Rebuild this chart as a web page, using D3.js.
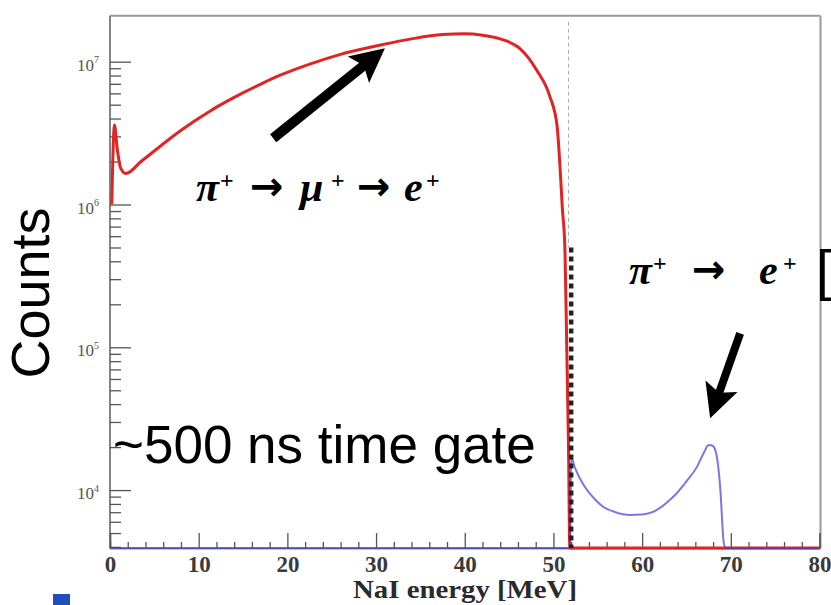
<!DOCTYPE html>
<html><head><meta charset="utf-8">
<script src="https://cdn.jsdelivr.net/npm/d3@7"></script>
<style>body{margin:0;background:#fff}svg{display:block}</style>
</head><body><svg id="c" width="831" height="605"></svg>
<script>
// ---- data ----
const redEnergy = [0.2, 0.5, 0.8, 1.2, 1.8, 3.5, 5.6, 7.9, 11.3, 14, 16.9, 19.2, 22.6, 25.9, 30.4, 34, 37.5, 40, 42, 44, 46.2, 48.1, 49.6, 50.4, 50.75, 51.0, 51.3, 51.5, 51.7, 51.85, 52, 80];
const redCounts = [1.0e6, 3.6e6, 2.5e6, 1.8e6, 1.65e6, 2.0e6, 2.54e6, 3.27e6, 4.52e6, 5.62e6, 6.92e6, 8.04e6, 9.66e6, 1.122e7, 1.303e7, 1.445e7, 1.549e7, 1.567e7, 1.531e7, 1.445e7, 1.24e7, 8.75e6, 5.7e6, 3.6e6, 1.8e6, 9.5e5, 4.8e5, 1.0e5, 2.0e4, 0, 0, 0];
const blueEnergy = [0, 51.9, 52, 52.4, 53, 53.8, 54.7, 55.6, 57, 58.6, 60, 61.3, 62.6, 63.9, 65, 66.2, 67, 67.5, 67.9, 68.3, 68.8, 69.2, 69.4, 80];
const blueCounts = [0, 0, 1.7e4, 1.45e4, 1.2e4, 1.0e4, 8.6e3, 7.65e3, 7.0e3, 6.7e3, 6.75e3, 7.06e3, 8.0e3, 9.5e3, 1.15e4, 1.46e4, 1.85e4, 2.07e4, 2.05e4, 1.86e4, 1.05e4, 4.3e3, 0, 0];
const xTicks = [0, 10, 20, 30, 40, 50, 60, 70, 80];
const xTickLabels = ["0", "10", "20", "30", "40", "50", "60", "70", "80"];
const yTicks = [1e4, 1e5, 1e6, 1e7];
const yTickExponents = ["4", "5", "6", "7"];
const xDomain = [0, 80];
const yDomain = [3930, 2.1e7];
const cutEnergy = 52;
const gateLineEnergy = 51.7;
const cutTopCounts = 5.0e5;
const xTitle = "NaI energy [MeV]";
const yTitle = "Counts";
const gateText = "~500 ns time gate";

// ---- layout ----
const svg = d3.select("#c");
const L = 110, R = 819.5, T = 15.7, B = 548;
const x = d3.scaleLinear().domain(xDomain).range([L, R]);
const y = d3.scaleLog().domain(yDomain).range([B, T]);
const yv = v => v > 0 ? y(Math.max(v, yDomain[0])) : B;

// frame
svg.append("line").attr("x1", L).attr("x2", R + 1).attr("y1", T).attr("y2", T)
  .attr("stroke", "#9a9a9a").attr("stroke-width", 2);
svg.append("line").attr("x1", R + 1).attr("x2", R + 1).attr("y1", T).attr("y2", B)
  .attr("stroke", "#9a9a9a").attr("stroke-width", 2);
svg.append("line").attr("x1", L).attr("x2", L).attr("y1", T).attr("y2", B)
  .attr("stroke", "#666").attr("stroke-width", 1.6);

// x axis
const xMinor = d3.range(0, 81, 2).filter(v => v % 10 !== 0);
const gxMinor = svg.append("g").attr("transform", `translate(0,${B})`)
  .call(d3.axisBottom(x).tickValues(xMinor).tickSize(-6).tickFormat(""));
const gx = svg.append("g").attr("transform", `translate(0,${B})`)
  .call(d3.axisBottom(x).tickValues(xTicks).tickSize(-15).tickPadding(7.5)
    .tickFormat((d, i) => xTickLabels[i]));
[gx, gxMinor].forEach(g => {
  g.select(".domain").attr("stroke", "#777").attr("stroke-width", 1.5);
  g.selectAll(".tick line").attr("stroke", "#555").attr("stroke-width", 1.3);
});
gx.selectAll(".tick text").attr("font-family", "Liberation Serif, serif")
  .attr("font-size", 23).attr("fill", "#3a3a3a").attr("font-weight", "bold");

// y axis
const yMinor = [];
[1e3, 1e4, 1e5, 1e6].forEach(dec => [2, 3, 4, 5, 6, 7, 8, 9].forEach(m => {
  const v = dec * m; if (v >= yDomain[0] && v < 1e7) yMinor.push(v);
}));
const gyMinor = svg.append("g").attr("transform", `translate(${L},0)`)
  .call(d3.axisLeft(y).tickValues(yMinor).tickSize(-11).tickFormat(""));
const gy = svg.append("g").attr("transform", `translate(${L},0)`)
  .call(d3.axisLeft(y).tickValues(yTicks).tickSize(-21).tickPadding(11).tickFormat(() => "10"));
[gy, gyMinor].forEach(g => {
  g.select(".domain").attr("stroke", "none");
  g.selectAll(".tick line").attr("stroke", "#555").attr("stroke-width", 1.3);
});
gy.selectAll(".tick text").attr("font-family", "Liberation Serif, serif")
  .attr("font-size", 17).attr("fill", "#555").attr("dy", "0.5em")
  .each(function(d, i) {
    d3.select(this).append("tspan").attr("font-size", 10).attr("dy", "-0.75em").text(yTickExponents[i]);
  });

// series
const line = d3.line().x(d => x(d[0])).y(d => yv(d[1])).curve(d3.curveMonotoneX);
const redData = redEnergy.map((e, i) => [e, redCounts[i]]);
const blueData = blueEnergy.map((e, i) => [e, blueCounts[i]]);

// gate line (thin gray dashed)
svg.append("line").attr("x1", x(gateLineEnergy)).attr("x2", x(gateLineEnergy))
  .attr("y1", T + 6).attr("y2", y(cutTopCounts))
  .attr("stroke", "#b0b0b0").attr("stroke-width", 1).attr("stroke-dasharray", "4,3");

svg.append("path").attr("d", line(redData)).attr("fill", "none")
  .attr("stroke", "#e02424").attr("stroke-width", 3).attr("stroke-linejoin", "round");
svg.append("path").attr("d", line(blueData)).attr("fill", "none")
  .attr("stroke", "#4040d4").attr("stroke-opacity", 0.7).attr("stroke-width", 2);

// cut dashed line
svg.append("line").attr("x1", x(cutEnergy)).attr("x2", x(cutEnergy))
  .attr("y1", y(cutTopCounts)).attr("y2", B)
  .attr("stroke", "#222").attr("stroke-width", 4.5).attr("stroke-dasharray", "5,4");

// arrows (in data coordinates)
function arrow(e0, c0, e1, c1, w, headL, headW) {
  const x0 = x(e0), y0 = y(c0), x1 = x(e1), y1 = y(c1);
  const dx = x1 - x0, dy = y1 - y0, len = Math.hypot(dx, dy);
  const ux = dx / len, uy = dy / len, px = -uy, py = ux;
  const bx = x1 - ux * headL, by = y1 - uy * headL;
  const nx = x1 - ux * headL * 0.8, ny = y1 - uy * headL * 0.8;
  svg.append("line").attr("x1", x0).attr("y1", y0).attr("x2", nx + ux).attr("y2", ny + uy)
    .attr("stroke", "#000").attr("stroke-width", w);
  svg.append("path").attr("fill", "#000")
    .attr("d", `M${x1},${y1}L${bx + px * headW},${by + py * headW}L${nx},${ny}L${bx - px * headW},${by - py * headW}Z`);
}
arrow(18.4, 2.91e6, 31.0, 1.24e7, 10, 34, 17);
arrow(71.05, 1.25e5, 67.67, 3.18e4, 8, 34, 17);

// formulas
function formula(parts, baseline) {
  const t = svg.append("text").attr("y", baseline).attr("fill", "#000");
  parts.forEach(p => {
    const s = t.append("tspan").attr("x", p.x).text(p.t).attr("font-weight", "bold");
    if (p.k === "g") s.attr("font-family", "Liberation Serif, serif").attr("font-size", 42)
      .attr("font-style", "italic").attr("y", baseline);
    if (p.k === "s") s.attr("font-family", "Liberation Serif, serif").attr("font-size", 24).attr("y", baseline - 13);
    if (p.k === "a") s.attr("font-family", "DejaVu Sans, sans-serif").attr("font-size", 40).attr("y", baseline - 1);
  });
}
formula([{t: "π", x: 196, k: "g"}, {t: "+", x: 220, k: "s"}, {t: "→", x: 250, k: "a"},
         {t: "μ", x: 300, k: "g"}, {t: "+", x: 331, k: "s"}, {t: "→", x: 357, k: "a"},
         {t: "e", x: 404, k: "g"}, {t: "+", x: 426, k: "s"}], 201);
formula([{t: "π", x: 629, k: "g"}, {t: "+", x: 653, k: "s"}, {t: "→", x: 692, k: "a"},
         {t: "e", x: 759, k: "g"}, {t: "+", x: 783, k: "s"}], 284);

// bracket at right edge
svg.append("text").attr("x", 816).attr("y", 289).attr("font-family", "Liberation Sans, Arial, sans-serif")
  .attr("font-size", 56).attr("fill", "#000").text("[");

// titles
svg.append("text").attr("transform", "translate(49,293) rotate(-90)").attr("text-anchor", "middle")
  .attr("font-family", "Liberation Sans, Arial, sans-serif").attr("font-size", 54).attr("fill", "#000")
  .text(yTitle);
svg.append("text").attr("x", 113).attr("y", 463)
  .attr("font-family", "Liberation Sans, Arial, sans-serif").attr("font-size", 53).attr("fill", "#000")
  .text(gateText);
svg.append("text").attr("x", 353).attr("y", 598).attr("textLength", 224).attr("lengthAdjust", "spacingAndGlyphs")
  .attr("font-family", "Liberation Serif, serif").attr("font-size", 25).attr("font-weight", "bold").attr("fill", "#2a2a2a")
  .text(xTitle);

// small blue slide marker at bottom-left
svg.append("rect").attr("x", 53).attr("y", 594).attr("width", 17).attr("height", 11).attr("fill", "#1f4fbf");
</script></body></html>
